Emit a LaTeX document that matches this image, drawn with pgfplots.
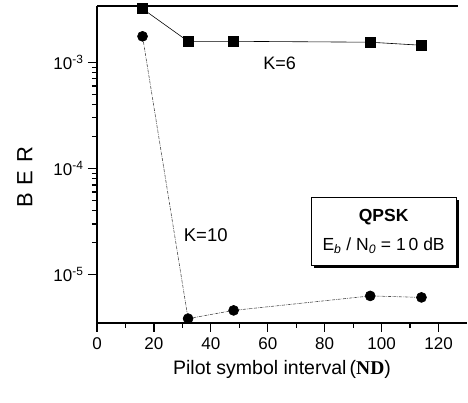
\documentclass[border=0pt]{standalone}
\usepackage{fontspec}
\setmainfont{Liberation Sans}
\newfontfamily\serifb{Liberation Serif}
\usepackage{pgfplots}
\pgfplotsset{compat=1.18}
\usetikzlibrary{shadows}
\begin{document}
\begin{tikzpicture}
\useasboundingbox (-97pt,-80pt) rectangle (371pt,323pt);
\begin{axis}[
  scale only axis, width=370pt, height=317pt,
  ymode=log,
  xmin=0, xmax=130, ymin=3.5e-6, ymax=3.4e-3,
  axis x line*=bottom, axis y line*=left,
  axis line style={line width=1.4pt, -},
  xtick={0,20,...,120}, minor xtick={10,30,...,110},
  ytick={1e-5,1e-4,1e-3},
  yticklabels={10\textsuperscript{-5},10\textsuperscript{-4},10\textsuperscript{-3}},
  tick align=outside,
  major tick length=9pt, minor tick length=5pt,
  every tick/.style={line width=1.2pt, black},
  /pgf/number format/assume math mode=true,
  tick label style={font=\fontsize{17}{19}\selectfont},
  xticklabel style={yshift=-2pt},
  yticklabel style={xshift=-1pt},
  xlabel={Pilot symbol interval\,({\serifb\bfseries ND})},
  xlabel style={font=\fontsize{19.5}{22}\selectfont, yshift=-4pt},
  clip=false,
]
\addplot[black, line width=0.6pt, mark=square*, mark size=5pt, mark options={solid}] coordinates {
(16,3.2e-3) (32,1.58e-3) (48,1.58e-3) (96,1.55e-3) (114,1.45e-3)};
\addplot[black!70, line width=0.6pt, densely dashdotted, mark=*, mark size=5pt, mark options={solid, fill=black, draw=black}] coordinates {
(16,1.76e-3) (32,3.85e-6) (48,4.6e-6) (96,6.3e-6) (114,6.1e-6)};
\draw[line width=1.4pt] (rel axis cs:0,1) -- (axis cs:127,3.4e-3);
\node[rotate=90, font=\fontsize{22}{24}\selectfont] at (rel axis cs:-0.195,0.46) {B\hspace{0.35em}E\hspace{0.35em}R};
\node[font=\fontsize{18}{20}\selectfont] at (axis cs:64.2,9.8e-4) {K=6};
\node[font=\fontsize{18.5}{20}\selectfont] at (axis cs:38.2,2.38e-5) {K=10};
\node[draw, line width=1pt, fill=white, minimum width=145pt, minimum height=68pt, align=center, inner sep=2pt,
  drop shadow={shadow xshift=3pt, shadow yshift=-3pt, fill=black, opacity=1},
  font=\fontsize{17.5}{29}\selectfont] at (axis cs:100.7,2.55e-5)
  {\textbf{QPSK}\\E\textsubscript{\itshape b} / N\textsubscript{\itshape 0} = 1\,0 dB};
\end{axis}
\end{tikzpicture}
\end{document}
